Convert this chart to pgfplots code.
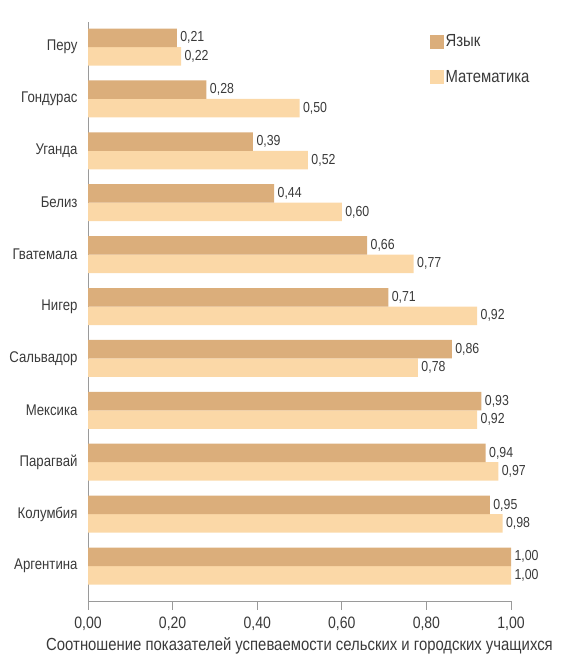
\documentclass[border=0pt]{standalone}
\usepackage{fontspec}
\setmainfont{Liberation Sans}[FakeStretch=0.85]
\usepackage{pgfplots}
\pgfplotsset{compat=1.18}
\definecolor{lang}{HTML}{DBAE7B}
\definecolor{math}{HTML}{FBD8A7}
\definecolor{txt}{HTML}{3A3A3A}
\definecolor{axgray}{HTML}{9A9A9A}
\begin{document}
\begin{tikzpicture}[x=1pt,y=1pt]
\path[use as bounding box] (0,0) rectangle (587,659);
\begin{axis}[
  at={(88pt,58pt)}, anchor=south west,
  scale only axis,
  width=423pt, height=579pt,
  xbar, bar width=18.5pt,
  xmin=0, xmax=1,
  ymin=-0.674, ymax=10.482,
  axis x line*=bottom, axis y line*=left,
  axis line style={axgray, line width=1pt},
  x axis line style={-}, y axis line style={-},
  xtick={0,0.2,0.4,0.6,0.8,1},
  tick align=outside,
  x tick style={axgray, line width=1pt},
  major tick length=9pt,
  ytick={0,...,10},
  yticklabels={Аргентина,Колумбия,Парагвай,Мексика,Сальвадор,Нигер,Гватемала,Белиз,Уганда,Гондурас,Перу},
  y tick style={draw=none},
  xticklabel style={font=\fontsize{16.5}{18}\selectfont, text=txt, yshift=-3pt},
  yticklabel style={font=\fontsize{15.5}{17}\selectfont, text=txt, xshift=2pt},
  /pgf/number format/.cd, fixed, fixed zerofill, precision=2, use comma, assume math mode=true,
  /pgfplots/.cd,
  xlabel={Соотношение показателей успеваемости сельских и городских учащихся},
  xlabel style={font=\fontsize{17.5}{19}\selectfont, text=txt, yshift=0pt},
  nodes near coords,
  nodes near coords style={font=\fontsize{14.5}{16}\selectfont, text=txt, anchor=west, xshift=0pt},
  every node near coord/.append style={/pgf/number format/.cd, fixed, fixed zerofill, precision=2, use comma, assume math mode=true},
  clip=false,
  legend style={draw=none, fill=none, at={(0.80,0.985)}, anchor=north west,
    font=\fontsize{17.5}{19}\selectfont, text=txt, row sep=18pt, cells={anchor=west}},
  legend image code/.code={\fill[#1] (0pt,-7pt) rectangle (14pt,7pt);},
]
\addlegendimage{fill=lang, draw=none}
\addlegendentry{Язык}
\addlegendimage{fill=math, draw=none}
\addlegendentry{Математика}
\addplot[fill=math, draw=none, bar shift=-9.25pt, forget plot] coordinates {
(1.00,0) (0.98,1) (0.97,2) (0.92,3) (0.78,4) (0.92,5) (0.77,6) (0.60,7) (0.52,8) (0.50,9) (0.22,10)};
\addplot[fill=lang, draw=none, bar shift=9.25pt, forget plot] coordinates {
(1.00,0) (0.95,1) (0.94,2) (0.93,3) (0.86,4) (0.71,5) (0.66,6) (0.44,7) (0.39,8) (0.28,9) (0.21,10)};
\end{axis}
\end{tikzpicture}
\end{document}
